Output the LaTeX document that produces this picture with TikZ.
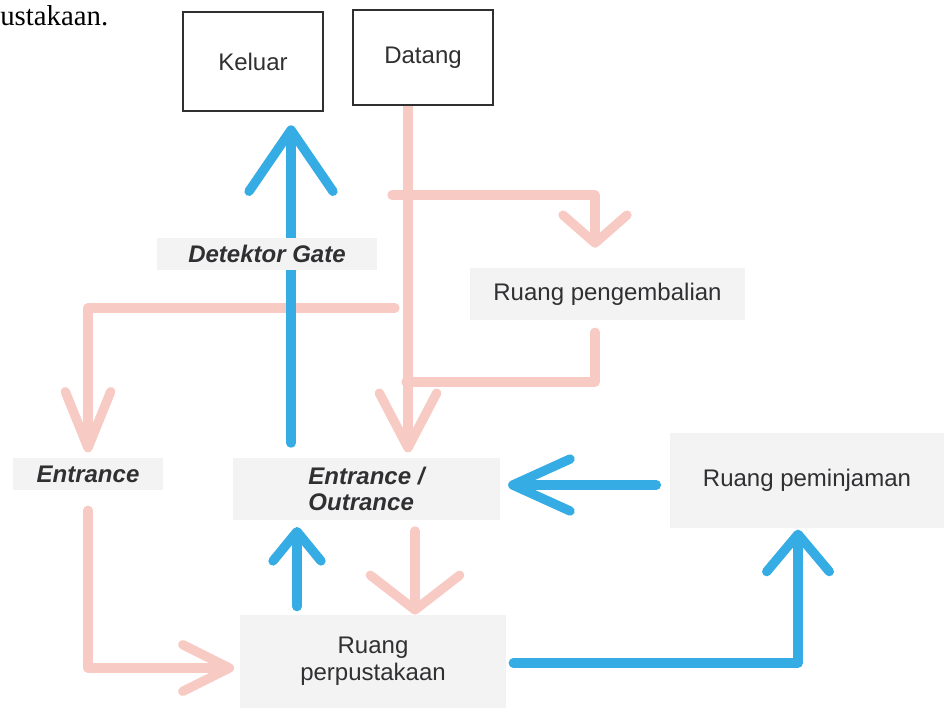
\documentclass[tikz,border=0pt]{standalone}
\usepackage{fontspec}
\setmainfont{Liberation Sans}
\newfontfamily\bodyserif{Liberation Serif}
\usetikzlibrary{arrows.meta,calc}
\pgfdeclarelayer{bg}
\pgfsetlayers{bg,main}
\definecolor{flowpink}{RGB}{248,202,196}
\definecolor{flowblue}{RGB}{54,172,228}
\definecolor{labelgray}{RGB}{243,243,244}
\definecolor{ink}{RGB}{48,48,50}

\begin{document}
\begin{tikzpicture}[x=0.75pt,y=-0.75pt,
  every node/.style={font=\fontsize{18}{20}\selectfont, text=ink, inner sep=0pt, align=center},
  endbox/.style={draw=ink, line width=1.5pt, fill=white, minimum width=105pt},
  labelbox/.style={fill=labelgray},
  emph/.style={font=\fontsize{18}{20}\selectfont\bfseries\itshape},
  pk/.style={draw=flowpink, line width=7pt, line cap=round, line join=round},
  bl/.style={draw=flowblue, line width=7pt, line cap=round, line join=round},
  barb/.style 2 args={-{Straight Barb[length=#1,width=#2,round]}}]

\useasboundingbox (0,0) rectangle (944,708);

% running text of the page above the figure
\node[anchor=west, font=\bodyserif\fontsize{21.6}{24}\selectfont, text=black] (caption) at (0,16) {ustakaan.};

% end points
\node[endbox, minimum height=74.25pt] (keluar) at (253,61.5) {Keluar};
\node[endbox, minimum height=71.25pt] (datang) at (423,57.5) {Datang};

% rooms and gates
\node[labelbox, emph, minimum width=165pt, minimum height=24pt] (gate) at (267,254) {Detektor Gate};
\node[labelbox, minimum width=206pt, minimum height=39pt] (kembali) at (607.5,294) {Ruang pengembalian};
\node[labelbox, emph, minimum width=112.5pt, minimum height=24pt] (entrance) at (88,474) {Entrance};
\node[labelbox, emph, minimum width=200pt, minimum height=46.5pt, align=left] (eo) at (366.5,489) {Entrance /\\Outrance};
\node[labelbox, minimum width=205.5pt, minimum height=71.25pt] (pinjam) at (807,480.5) {Ruang peminjaman};
\node[labelbox, minimum width=200pt, minimum height=70pt] (perp) at (373,661.5) {Ruang\\perpustakaan};

% guide coordinates for the flow lines
\coordinate (xA) at (408,0);
\coordinate (xK) at (595,0);
\coordinate (xE) at (88,0);
\coordinate (xO) at (415,0);
\coordinate (xG) at (291,0);
\coordinate (xU) at (297,0);
\coordinate (xR) at (798,0);
\coordinate (yP) at (0,668);
\coordinate (yL) at (0,485);
\coordinate (yB) at (0,663);
\coordinate (b1) at (392,195);
\coordinate (j2) at (406,382);
\coordinate (j3) at (395,308);

\begin{pgfonlayer}{bg}
  % visitor flow (pink)
  \draw[pk, barb={41pt}{43pt}, shorten >=4pt] (datang.south -| xA) -- (eo.north -| xA);
  \draw[pk, barb={21pt}{48pt}, shorten >=15pt] (b1) -| (kembali.north -| xK);
  \draw[pk, shorten <=9pt] (kembali.south -| xK) |- (j2);
  \draw[pk, barb={42pt}{34pt}, shorten >=4pt] (j3) -| (entrance.north -| xE);
  \draw[pk, barb={35pt}{35pt}, shorten <=15pt, shorten >=4pt] (entrance.south -| xE) |- (perp.west |- yP);
  \draw[pk, barb={26pt}{67pt}, shorten <=8pt] (eo.south -| xO) -- (perp.north -| xO);

  % outgoing flow (blue)
  \draw[bl, barb={46pt}{63pt}, shorten <=11pt, shorten >=10pt] (eo.north -| xG) -- (keluar.south -| xG);
  \draw[bl, barb={22pt}{36pt}, shorten <=6pt, shorten >=5pt] (perp.north -| xU) -- (eo.south -| xU);
  \draw[bl, barb={43pt}{39pt}, shorten <=10pt, shorten >=6pt] (pinjam.west |- yL) -- (eo.east |- yL);
  \draw[bl, barb={28pt}{47pt}, shorten <=5pt, shorten >=1pt] (perp.east |- yB) -| (pinjam.south -| xR);
\end{pgfonlayer}
\end{tikzpicture}
\end{document}
